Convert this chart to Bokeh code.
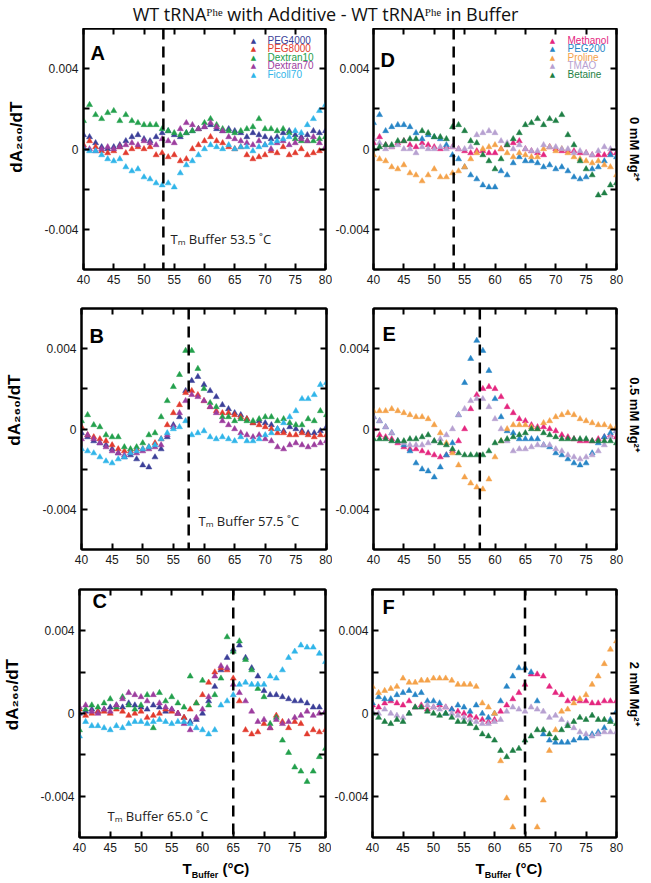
import numpy as np
from bokeh.plotting import figure
from bokeh.models import Label, Span, LinearAxis, FixedTicker, Range1d
from bokeh.layouts import column, row
from bokeh.embed import file_html
from bokeh.resources import INLINE

# ---------------- data (dA260/dT differences, units of 1e-4) ----------------
T_BUFFER = [40, 41, 42, 43, 44, 45, 46, 47, 48, 49, 50, 51, 52, 53, 54, 55, 56, 57, 58, 59, 60,
            61, 62, 63, 64, 65, 66, 67, 68, 69, 70, 71, 72, 73, 74, 75, 76, 77, 78, 79, 80]
X_TICKS = [40, 45, 50, 55, 60, 65, 70, 75, 80]
Y_TICKS = [-0.004, 0, 0.004]
Y_MINOR_TICKS = [-0.002, 0.002]
Y_TICK_LABELS = {-0.004: "-0.004", 0: "0", 0.004: "0.004"}
UNIT = 1e-4

SERIES_LEFT = ["PEG4000", "PEG8000", "Dextran10", "Dextran70", "Ficoll70"]
SERIES_RIGHT = ["Methanol", "PEG200", "Proline", "TMAO", "Betaine"]
COLORS = {"PEG4000": "#3b3f98", "PEG8000": "#e23b2e", "Dextran10": "#23a04c",
          "Dextran70": "#9c3d9e", "Ficoll70": "#30b5e9", "Methanol": "#e4267f",
          "PEG200": "#2785c6", "Proline": "#f4a24a", "TMAO": "#b7a1d1", "Betaine": "#1e7f45"}

# Panel A: 0 mM Mg2+ (crowders)
PEG4000_A = [7, 6, 3, 1, 0, 1, 2, 4, 6, 7, 5, 4, 6, 8, 9, 7, 6, 8, 9, 10, 11, 12, 10, 9, 10, 9, 8, 6, 8, 7, 6, 5, 6, 8, 9, 7, 6, 7, 9, 8, 9]
PEG8000_A = [2, 4, 1, -1, -2, -1, 1, -2, 0, 1, 0, 1, -3, -2, -4, -3, -6, -5, 0, 2, 4, 6, 4, 3, 1, 0, 1, -3, -5, -4, -3, -1, -2, 1, -3, -2, 0, -3, -2, -1, 0]
DEXTRAN10_A = [14, 22, 17, 15, 18, 19, 14, 17, 14, 13, 12, 12, 12, 10, 9, 8, 7, 8, 9, 10, 13, 15, 12, 10, 9, 8, 9, 10, 11, 15, 10, 10, 9, 10, 8, 5, 4, 4, 4, 5, 6]
DEXTRAN70_A = [1, 0, -1, 0, 1, 0, 1, 2, 3, 2, 4, 3, 2, 5, 4, 3, 10, 13, 12, 10, 11, 13, 11, 9, 6, 5, 4, 3, 2, 4, 2, 0, 3, 4, 2, 3, 5, 4, 6, 3, 1]
FICOLL70_A = [0, -1, -1, -3, -5, -6, -5, -9, -11, -10, -14, -15, -17, -18, -17, -19, -12, -8, -6, -3, 0, 2, 1, 0, 2, 0, 1, 1, -1, 1, 2, 3, 4, 5, 6, 9, 8, 12, 15, 19, 22]

# Panel B: 0.5 mM Mg2+ (crowders)
PEG4000_B = [-2, -4, -6, -7, -8, -10, -12, -14, -13, -15, -18, -19, -14, -10, -4, 2, 6, 19, 24, 26, 22, 19, 16, 12, 10, 8, 7, 5, 3, 4, 3, 2, 0, -1, 1, 0, -1, -2, -2, -1, 1]
PEG8000_B = [1, -3, -4, -5, -6, -8, -10, -11, -11, -10, -10, -9, -7, -5, 2, 8, 12, 18, 19, 17, 14, 11, 9, 8, 8, 7, 6, 5, 3, 2, 1, 0, -2, -2, -3, -3, -2, -3, -4, -3, -3]
DEXTRAN10_B = [4, 7, 2, 1, -3, -4, -4, -9, -10, -9, -7, -3, -2, 6, 14, 21, 27, 39, 39, 30, 20, 13, 11, 6, 6, 4, 5, 4, 4, 5, 6, 6, 4, 5, 3, 2, 2, 5, 4, 9, 7]
DEXTRAN70_B = [-5, -3, -5, -7, -9, -11, -12, -13, -12, -12, -11, -10, -9, -8, -3, 1, 8, 14, 17, 16, 14, 11, 8, 4, 2, 0, -2, -3, -4, -3, -5, -6, -9, -10, -8, -7, -8, -9, -8, -7, -6]
FICOLL70_B = [-10, -11, -12, -14, -16, -17, -15, -14, -12, -11, -10, -9, -8, -5, -2, 0, 1, 4, -3, -2, -1, -4, -5, -4, -5, -6, -4, -6, -6, -5, -3, -2, 0, 3, 6, 9, 15, 15, 17, 22, 23]

# Panel C: 2 mM Mg2+ (crowders)
PEG4000_C = [0, 1, 2, 1, 2, 3, 4, 3, 5, 4, 3, 2, 4, 3, 1, 2, 0, -2, -4, -3, 0, 6, 13, 21, 27, 31, 33, 27, 22, 18, 11, 9, 9, 8, 7, 6, 6, 5, 3, 3, 1]
PEG8000_C = [2, -1, 0, 1, 1, 0, 2, 1, -1, 0, 1, -2, -1, 0, 2, 1, 0, -2, 2, 5, 9, 15, 20, 22, 21, 17, 6, -8, -10, -9, -5, -7, -1, -4, -7, -4, -5, -10, -8, -9, -8]
DEXTRAN10_C = [-8, 2, 4, 3, 5, 7, 3, 8, 4, 2, 4, 9, -7, 10, 6, 8, 5, 3, 18, 5, 16, 4, 9, 17, 37, 30, 35, 26, 21, 12, 8, -5, -2, -13, -19, -26, -28, -33, -28, -21, -17]
DEXTRAN70_C = [3, 4, 1, 0, 2, 1, 4, 7, 10, 9, 8, 6, 9, 5, 3, 2, 0, -5, -8, -2, 2, 8, 18, 23, 22, 14, 10, 6, 1, -4, -3, -7, -3, -5, -4, -2, -1, 1, -1, 0, 1]
FICOLL70_C = [-11, -4, -6, -6, -7, -8, -6, -7, -5, -4, -4, -5, -4, -3, -4, -5, -4, -4, -5, -7, -8, -10, -8, 4, 6, 9, 14, 15, 14, 14, 14, 18, 17, 21, 27, 30, 33, 32, 32, 29, 25]

# Panel D: 0 mM Mg2+ (cosolutes)
METHANOL_D = [3, 6, 2, 1, 3, 4, 2, 1, 3, 2, 1, 0, 1, 1, 0, -1, -2, -1, -1, -2, -2, 0, 2, 3, 4, 0, -1, -2, -3, 1, 0, -1, -1, -1, -2, -2, -3, -3, -3, -2, -2]
PEG200_D = [13, 17, 9, 11, 12, 12, 11, 8, 5, 7, 6, 5, 2, -3, -5, -9, -13, -15, -18, -19, -19, -11, -13, -7, -4, -6, -6, -7, -9, -8, -10, -9, -11, -14, -15, -14, -10, -9, -6, -3, -4]
PROLINE_D = [-3, -5, -6, -9, -10, -8, -12, -13, -16, -13, -10, -14, -14, -12, -11, -9, -5, -2, 0, 1, 2, 0, -2, -4, -2, -3, -4, -4, 0, 1, -1, 0, -2, -4, -5, -6, -7, -6, -8, -9, -13]
TMAO_D = [5, 3, 0, 1, 2, 0, 0, -2, 1, 0, 0, 1, 0, 1, 0, 0, 1, 7, 8, 9, 8, 4, 3, 0, 2, 0, -1, -1, 2, 1, 1, 0, 0, -2, -1, -2, -3, -1, 1, 0, 0]
BETAINE_D = [0, 1, 2, 2, 4, 4, 5, 5, 9, 8, 6, 6, 5, 11, 12, 9, 4, 3, -3, -6, -10, -5, 2, 5, 8, 12, 13, 15, 12, 15, 14, 17, 7, 2, -6, -10, -13, -23, -22, -18, -17]

# Panel E: 0.5 mM Mg2+ (cosolutes)
METHANOL_E = [0, -3, -4, -5, -7, -9, -10, -10, -11, -12, -13, -14, -13, -11, -6, 0, 10, 17, 20, 21, 20, 16, 11, 8, 5, 4, 2, 1, 1, 0, -1, -3, -4, -5, -6, -6, -6, -5, -4, -3, -4]
PEG200_E = [6, 4, 1, -2, -6, -8, -11, -17, -20, -21, -24, -19, -13, -7, 7, 23, 35, 44, 39, 29, 15, 6, -1, -2, -5, -5, -5, -5, -8, -9, -12, -13, -15, -17, -18, -17, -12, -7, -4, -2, -1]
PROLINE_E = [9, 9, 9, 10, 9, 8, 7, 6, 6, 5, 2, -2, -7, -12, -18, -24, -27, -29, -30, -25, -14, -6, 0, 2, 2, 2, 1, 0, 3, 4, 6, 7, 8, 7, 5, 4, 3, 2, 2, 1, 1]
TMAO_E = [6, 4, 1, -2, -6, -7, -8, -8, -8, -7, -6, -5, -3, 0, 7, 10, 14, 15, 15, 11, 5, 0, -6, -11, -10, -10, -9, -8, -8, -8, -10, -11, -13, -14, -15, -14, -13, -11, -8, -4, -1]
BETAINE_E = [-5, -5, -5, -6, -6, -6, -5, -5, -4, -3, -6, -7, -8, -10, -12, -13, -13, -13, -13, -11, -7, -6, -5, -4, -3, -2, 0, 0, -2, -3, -4, -5, -5, -5, -5, -5, -6, -6, -6, -6, -7]

# Panel F: 2 mM Mg2+ (cosolutes); None = point below the plotted range
METHANOL_F = [4, 3, 5, 6, 5, 4, 6, 3, 4, 2, 3, 4, 3, 2, 1, 0, -1, -2, -3, -4, -3, 1, 4, 7, 10, 14, 19, 19, 18, 13, 10, 9, 6, 7, 6, 6, 5, 5, 6, 6, 6]
PEG200_F = [5, 8, 7, 7, 9, 10, 11, 9, 10, 6, 6, 5, 0, 2, 4, 3, 1, 4, 0, -2, 0, 6, 13, 18, 22, 22, 20, 6, -10, -13, -14, -14, -14, -13, -12, -12, -10, -9, -7, -3, 1]
PROLINE_F = [13, 10, 11, 12, 13, 17, 15, 15, 16, 16, 17, 17, 17, 16, 14, 14, 14, 13, 5, 3, 0, -23, -41, -55, None, None, None, -55, -42, -18, -8, 1, 2, 5, 7, 9, 14, 18, 24, 31, 35]
TMAO_F = [1, 0, 2, 0, -1, -2, 0, 3, 3, 4, 3, 2, 3, 0, -1, -2, -3, -4, -5, -5, -4, -3, 1, 3, 2, 1, 3, 2, 1, -2, -1, -3, -5, -7, -9, -10, -11, -10, -9, -9, -9]
BETAINE_F = [0, -2, -4, -5, -3, -4, 0, 3, 3, 1, 0, -1, 0, -2, -4, -4, -5, -7, -10, -11, -13, -18, -21, -18, -17, -13, -11, -8, -8, -10, -12, -8, -6, -4, -2, -3, -1, -3, -3, -4, -5]

TITLE = "WT tRNA\u1D3E\u02B0\u1D49 with Additive - WT tRNA\u1D3E\u02B0\u1D49 in Buffer"
TM_BUFFER = ["53.5", "57.5", "65.0"]
TM_LINE = [53.2, 57.5, 65.0]
MG_LABELS = ["0 mM Mg\u00B2\u207A", "0.5 mM Mg\u00B2\u207A", "2 mM Mg\u00B2\u207A"]
Y_TITLE = "dA\u2082\u2086\u2080/dT"

PANEL_DATA = {
    "A": [PEG4000_A, PEG8000_A, DEXTRAN10_A, DEXTRAN70_A, FICOLL70_A],
    "B": [PEG4000_B, PEG8000_B, DEXTRAN10_B, DEXTRAN70_B, FICOLL70_B],
    "C": [PEG4000_C, PEG8000_C, DEXTRAN10_C, DEXTRAN70_C, FICOLL70_C],
    "D": [METHANOL_D, PEG200_D, PROLINE_D, TMAO_D, BETAINE_D],
    "E": [METHANOL_E, PEG200_E, PROLINE_E, TMAO_E, BETAINE_E],
    "F": [METHANOL_F, PEG200_F, PROLINE_F, TMAO_F, BETAINE_F],
}

# ---------------- layout (page pixel coords; canvas origin = page origin) ----------------
# (fig width, fig height, border left, right, top, bottom, frame L, T, R, B)
GEOM = {
    "A": (332, 276, 83, 7, 0, 35, 83, 28, 325, 269),
    "D": (317, 276, 41, 33, 0, 35, 373, 28, 616, 269),
    "B": (332, 281, 81, 6, 4, 36, 81, 308, 326, 549),
    "E": (317, 281, 39, 33, 4, 36, 371, 308, 616, 549),
    "C": (331, 272, 76, 6, 4, 20, 76, 589, 325, 837),
    "F": (318, 272, 39, 33, 4, 20, 370, 589, 616, 837),
}
TITLE_H = 28
TOTAL_W = 649
XT_TOP = 857
XT_H = 25
NB = "\u00A0"
Y_TITLE_PAD = {"A": 5, "B": 8, "C": 8}      # leading spaces lift the centred title
MG_PAD = {"D": 0, "E": 8, "F": 11}          # trailing spaces lift the centred label

TICK_FONT = "Liberation Sans"


def put(fig, fr, px, py, text, size, color="#111111", font="Liberation Sans",
        style="normal", align="left"):
    """Place a text whose vertical middle is at page y = py."""
    L, T, R, B = fr
    fig.add_layout(Label(x=px - L, y=B - py, x_units="screen", y_units="screen",
                         text=text, text_font=font, text_font_size=f"{size}px",
                         text_font_style=style, text_color=color, text_align=align,
                         text_baseline="middle"))


def text_fig(w, h):
    f = figure(width=w, height=h, output_backend="svg", toolbar_location=None,
               x_axis_type=None, y_axis_type=None, min_border=0,
               x_range=Range1d(0, 1), y_range=Range1d(0, 1))
    f.outline_line_color = None
    f.background_fill_color = "white"
    f.border_fill_color = "white"
    return f


def style_axis(ax, labels=True):
    ax.axis_line_color = "black"
    ax.axis_line_width = 2
    ax.major_tick_in = 6
    ax.major_tick_out = 0
    ax.minor_tick_in = 6
    ax.minor_tick_out = 0
    ax.major_tick_line_width = 2
    ax.minor_tick_line_width = 2
    ax.major_tick_line_color = "black"
    ax.minor_tick_line_color = "black"
    if labels:
        ax.major_label_text_font = TICK_FONT
        ax.major_label_text_font_size = "12px"
        ax.major_label_text_color = "#1a1a1a"
    else:
        ax.major_label_text_font_size = "1px"
        ax.major_label_text_alpha = 0
        ax.major_label_text_color = None
        ax.major_label_standoff = 0


def make_panel(key):
    w, h, bl, br, bt, bb, L, T, R, B = GEOM[key]
    p = figure(width=w, height=h, x_range=Range1d(40, 80), y_range=Range1d(-0.006, 0.006),
               output_backend="svg", toolbar_location=None,
               x_axis_type=None, y_axis_type=None,
               min_border_left=bl, min_border_right=br, min_border_top=bt, min_border_bottom=bb)
    p.outline_line_color = "black"
    p.outline_line_width = 2
    p.background_fill_color = "white"
    p.border_fill_color = "white"

    xb = LinearAxis(ticker=FixedTicker(ticks=X_TICKS, minor_ticks=[]))
    style_axis(xb)
    xb.major_label_standoff = 5
    p.add_layout(xb, "below")
    xt = LinearAxis(ticker=FixedTicker(ticks=X_TICKS, minor_ticks=[]))
    style_axis(xt, labels=False)
    p.add_layout(xt, "above")

    yl = LinearAxis(ticker=FixedTicker(ticks=Y_TICKS, minor_ticks=Y_MINOR_TICKS),
                    major_label_overrides=Y_TICK_LABELS)
    style_axis(yl)
    yl.major_label_standoff = 5 if key in "ABC" else 4
    if key in "ABC":
        yl.axis_label = NB * Y_TITLE_PAD[key] + Y_TITLE
        yl.axis_label_text_font = "Liberation Sans"
        yl.axis_label_text_font_size = "17px"
        yl.axis_label_text_font_style = "bold"
        yl.axis_label_text_color = "black"
        yl.axis_label_standoff = 15
    p.add_layout(yl, "left")

    yr = LinearAxis(ticker=FixedTicker(ticks=Y_TICKS, minor_ticks=Y_MINOR_TICKS))
    style_axis(yr, labels=False)
    rowi = {"A": 0, "D": 0, "B": 1, "E": 1, "C": 2, "F": 2}[key]
    if key in "DEF":
        yr.axis_label = MG_LABELS[rowi] + NB * MG_PAD[key]
        yr.axis_label_text_font = "Liberation Sans"
        yr.axis_label_text_font_size = "13px"
        yr.axis_label_text_font_style = "bold"
        yr.axis_label_text_color = "black"
        yr.axis_label_standoff = 10
    p.add_layout(yr, "right")

    names = SERIES_LEFT if key in "ABC" else SERIES_RIGHT
    x = np.array(T_BUFFER, dtype=float)
    for name, vals in zip(names, PANEL_DATA[key]):
        y = np.array(vals, dtype=float) * UNIT
        c = COLORS[name]
        p.scatter(x, y, marker="triangle", size=6, fill_color=c, line_color=c, line_width=0.5)

    p.add_layout(Span(location=TM_LINE[rowi], dimension="height", line_color="black",
                      line_width=2.5, line_dash="11 7"))
    return p, (L, T, R, B), rowi


panels = {}
for k in "ABCDEF":
    panels[k] = make_panel(k)

# panel letters (vertical middle of the capitals)
LETTER_POS = {"A": (90, 52.5), "B": (89, 335), "C": (89, 600), "D": (380, 59), "E": (380, 333), "F": (380, 606)}
for k, (lx, ly) in LETTER_POS.items():
    p, fr, _ = panels[k]
    put(p, fr, lx, ly, k, 20, color="black", style="bold")

# legends
LEG_ROWS = [40, 48.4, 56.8, 65.2, 73.6]
for k, mx, tx, names in [("A", 253, 267, SERIES_LEFT), ("D", 552, 567, SERIES_RIGHT)]:
    p, fr, _ = panels[k]
    for yy, name in zip(LEG_ROWS, names):
        put(p, fr, mx, yy + 0.5, "\u25B2", 7, color=COLORS[name], font="DejaVu Sans",
            align="center")
        put(p, fr, tx, yy, name, 10, color=COLORS[name])

# Tm labels
TM_POS = {"A": (170, 238.5), "B": (198, 520.5), "C": (104, 815.5)}
for k, (x0, y0) in TM_POS.items():
    p, fr, ri = panels[k]
    put(p, fr, x0, y0, "T\u2098 Buffer " + TM_BUFFER[ri] + " \u02DAC", 13,
        color="#222222", font="Open Sans")

rows = [row(panels[a][0], panels[b][0]) for a, b in [("A", "D"), ("B", "E"), ("C", "F")]]

# x-axis titles
xf = text_fig(TOTAL_W, XT_H)
xfr = (0, XT_TOP, TOTAL_W, XT_TOP + XT_H)
for x0 in [182, 475]:
    put(xf, xfr, x0, 867.5, "T", 15, color="black", style="bold")
    put(xf, xfr, x0 + 9.3, 874, "Buffer", 9, color="black", style="bold")
    put(xf, xfr, x0 + 40, 867.5, "(\u00B0C)", 15, color="black", style="bold")

# title figure
tf = text_fig(TOTAL_W, TITLE_H)
tfr = (0, 0, TOTAL_W, TITLE_H)
put(tf, tfr, 325, 13.5, TITLE, 18, color="#111111", font="Open Sans", align="center")

layout = column(tf, rows[0], rows[1], rows[2], xf)

open("out.html", "w").write(file_html(layout, INLINE))
